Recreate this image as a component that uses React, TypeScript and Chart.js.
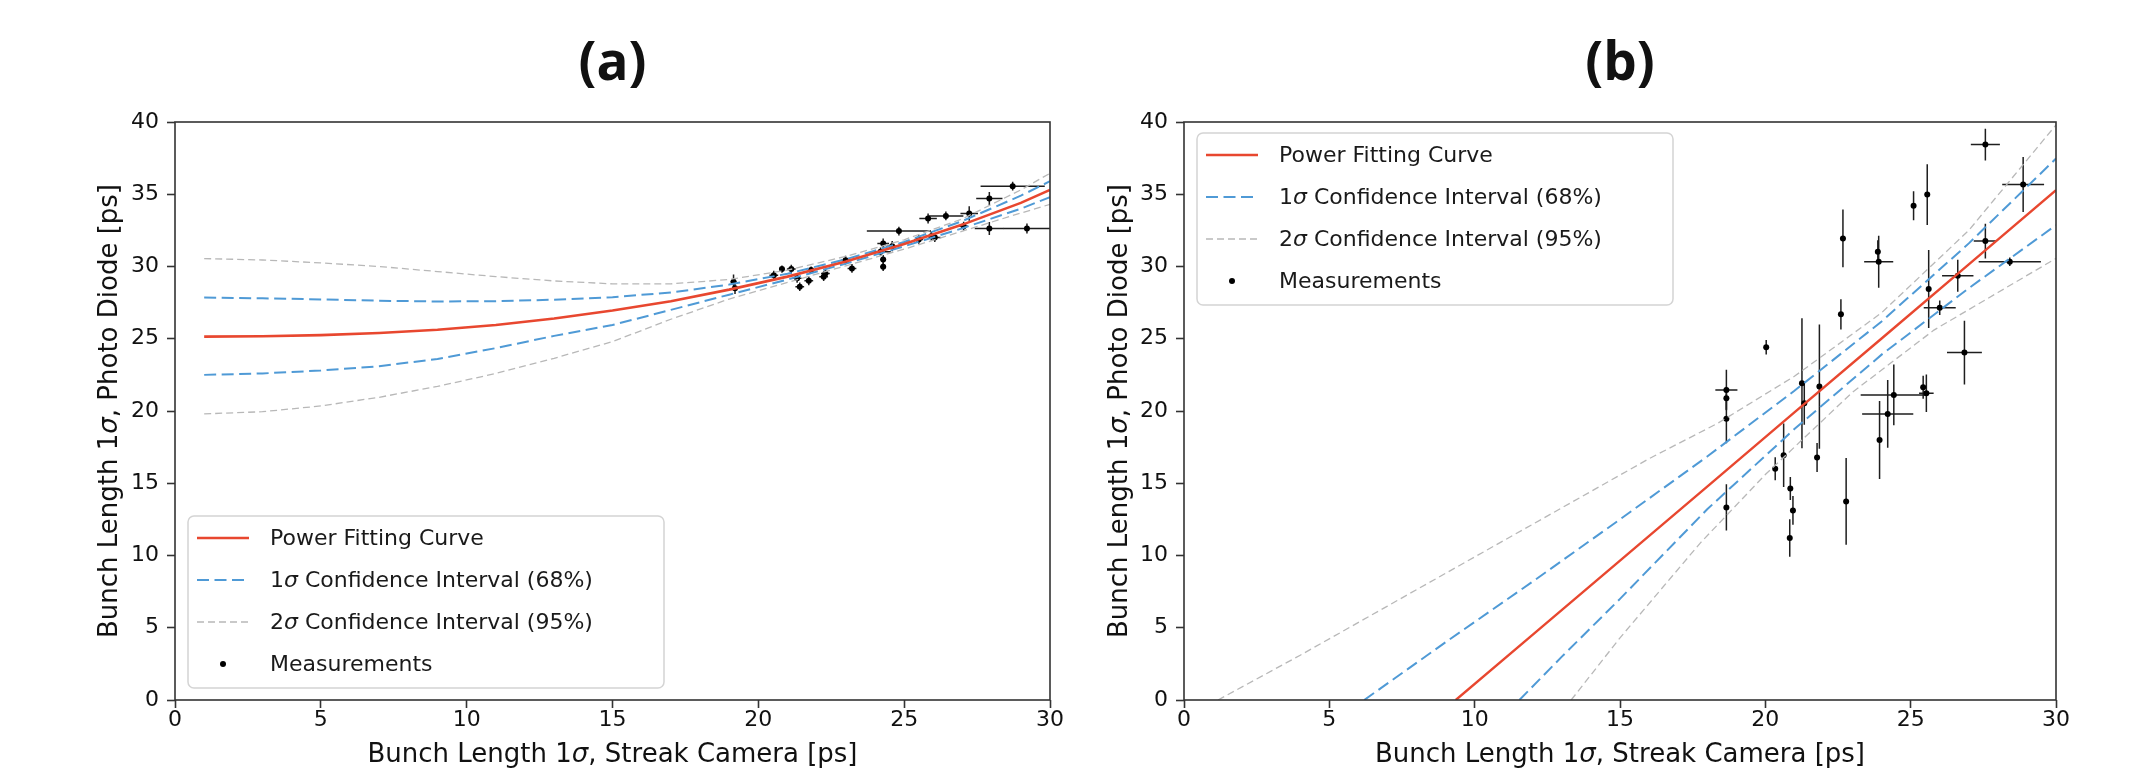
import React, { useEffect, useRef } from 'react';
import { Chart, registerables } from 'chart.js';

Chart.register(...registerables);

// ---------- tick labels ----------
const xTickValues = [0, 5, 10, 15, 20, 25, 30];
const yTickValues = [0, 5, 10, 15, 20, 25, 30, 35, 40];

// ---------- panel (a) curves ----------
const aCurveX = [1, 3, 5, 7, 9, 11, 13, 15, 17, 19, 21, 23, 25, 27, 29, 30];
const aFit = [25.15, 25.17, 25.25, 25.4, 25.62, 25.95, 26.4, 26.95, 27.6, 28.4, 29.3, 30.35, 31.55, 32.9, 34.4, 35.3];
const aUp1 = [27.85, 27.8, 27.72, 27.63, 27.58, 27.6, 27.7, 27.88, 28.2, 28.75, 29.5, 30.5, 31.7, 33.15, 34.9, 35.9];
const aLo1 = [22.5, 22.6, 22.8, 23.1, 23.6, 24.35, 25.2, 25.95, 27.0, 28.05, 29.1, 30.2, 31.4, 32.65, 34.0, 34.8];
const aUp2 = [30.55, 30.45, 30.25, 30.0, 29.65, 29.3, 29.0, 28.8, 28.8, 29.1, 29.75, 30.7, 31.85, 33.3, 35.3, 36.45];
const aLo2 = [19.8, 19.95, 20.35, 20.95, 21.7, 22.6, 23.65, 24.8, 26.35, 27.75, 28.9, 30.05, 31.2, 32.45, 33.7, 34.3];

// ---------- panel (a) measurements ----------
const aMeasX = [19.15, 19.2, 20.53, 20.81, 21.13, 21.33, 21.42, 21.73, 21.81, 22.24, 22.3, 22.99, 23.21, 24.19, 24.28, 24.28, 24.28, 24.59, 24.82, 25.5, 25.93, 26.05, 25.82, 26.43, 27.23, 27.04, 27.92, 28.72, 27.92, 29.21];
const aMeasY = [28.95, 28.5, 29.4, 29.82, 29.82, 29.18, 28.6, 29.01, 29.75, 29.29, 29.52, 30.44, 29.87, 31.02, 31.59, 30.49, 29.98, 31.41, 32.45, 31.87, 32.1, 32.0, 33.32, 33.5, 33.67, 32.79, 34.7, 35.56, 32.63, 32.63];
const aMeasXErr = [0.1, 0.1, 0.15, 0.1, 0.15, 0.15, 0.15, 0.15, 0.1, 0.15, 0.15, 0.15, 0.15, 0.35, 0.2, 0.1, 0.1, 0.2, 1.1, 0.15, 0.2, 0.2, 0.3, 0.6, 0.3, 0.15, 0.45, 1.1, 0.5, 0.8];
const aMeasYErr = [0.5, 0.4, 0.3, 0.25, 0.3, 0.3, 0.3, 0.3, 0.25, 0.3, 0.3, 0.3, 0.3, 0.3, 0.35, 0.3, 0.3, 0.35, 0.3, 0.3, 0.3, 0.3, 0.35, 0.3, 0.5, 0.3, 0.45, 0.3, 0.45, 0.35];

// ---------- panel (b) curves ----------
const bFitX = [9.35, 12, 15, 18, 21, 24, 27, 30];
const bFit = [0, 4.53, 9.65, 14.77, 19.9, 25.02, 30.15, 35.28];
const bUp1X = [6.2, 9, 12, 15, 18, 21, 24, 27, 30];
const bUp1 = [0, 4.0, 8.2, 12.5, 16.85, 21.4, 26.2, 31.6, 37.47];
const bLo1X = [11.54, 13, 15, 18, 21, 24, 27, 30];
const bLo1 = [0, 3.0, 7.0, 13.2, 18.75, 23.9, 28.5, 32.86];
const bUp2X = [1.17, 4, 7, 10, 13, 16, 18.36, 21, 24, 27, 30];
const bUp2 = [0, 3.1, 6.5, 9.9, 13.3, 16.7, 19.15, 22.4, 26.8, 32.5, 39.8];
const bLo2X = [13.32, 15, 17.76, 20, 23, 25.8, 28, 30];
const bLo2 = [0, 4.3, 10.86, 15.6, 21.3, 25.6, 28.2, 30.56];

// ---------- panel (b) measurements ----------
const bMeasX = [27.57, 28.87, 25.57, 25.1, 22.67, 23.87, 23.9, 27.57, 28.41, 26.62, 25.62, 26.0, 22.6, 20.03, 18.66, 18.66, 18.66, 18.66, 21.26, 21.34, 21.86, 20.63, 20.34, 20.86, 20.95, 20.84, 21.78, 22.78, 23.93, 24.21, 24.42, 25.43, 25.54, 26.85];
const bMeasY = [38.44, 35.67, 34.98, 34.2, 31.94, 31.02, 30.33, 31.76, 30.33, 29.36, 28.44, 27.15, 26.69, 24.41, 21.46, 20.88, 19.46, 13.33, 21.92, 20.54, 21.69, 16.94, 16.0, 14.64, 13.12, 11.21, 16.78, 13.74, 18.0, 19.8, 21.11, 21.64, 21.23, 24.04];
const bMeasXErr = [0.5, 0.72, 0.08, 0.08, 0.08, 0.08, 0.5, 0.4, 1.07, 0.54, 0.08, 0.55, 0.08, 0.05, 0.38, 0.05, 0.05, 0.05, 0.05, 0.05, 0.05, 0.05, 0.05, 0.05, 0.05, 0.05, 0.05, 0.05, 0.05, 0.88, 1.14, 0.05, 0.25, 0.6];
const bMeasYErr = [1.1, 1.9, 2.1, 1.0, 2.0, 0.8, 1.8, 1.2, 0.3, 1.1, 2.7, 0.5, 1.05, 0.5, 1.4, 0.8, 1.7, 1.6, 4.5, 1.5, 4.3, 2.2, 0.8, 0.8, 1.0, 1.3, 1.0, 3.0, 2.7, 2.35, 2.1, 0.8, 1.3, 2.2];

// ---------- styling ----------
const FONT = "'DejaVu Sans', sans-serif";
const RED = '#e8472f';
const BLUE = '#4f9ad6';
const GRAY = '#b8b8b8';
const AXIS = '#333333';
const TEXT = '#111111';

type Part = { t: string; it?: boolean };

const xLabelParts: Part[] = [{ t: 'Bunch Length 1' }, { t: 'σ', it: true }, { t: ', Streak Camera [ps]' }];
const yLabelParts: Part[] = [{ t: 'Bunch Length 1' }, { t: 'σ', it: true }, { t: ', Photo Diode [ps]' }];
const legendLabels: Part[][] = [
  [{ t: 'Power Fitting Curve' }],
  [{ t: '1' }, { t: 'σ', it: true }, { t: ' Confidence Interval (68%)' }],
  [{ t: '2' }, { t: 'σ', it: true }, { t: ' Confidence Interval (95%)' }],
  [{ t: 'Measurements' }],
];

function pts(xs: number[], ys: number[]) {
  return xs.map((x, i) => ({ x, y: ys[i] }));
}

function drawRich(ctx: CanvasRenderingContext2D, parts: Part[], x: number, y: number, size: number, align: 'left' | 'center') {
  const widths = parts.map((p) => {
    ctx.font = `${p.it ? 'italic ' : ''}${size}px ${FONT}`;
    return ctx.measureText(p.t).width;
  });
  const total = widths.reduce((a, b) => a + b, 0);
  let cx = align === 'center' ? x - total / 2 : x;
  ctx.textAlign = 'left';
  parts.forEach((p, i) => {
    ctx.font = `${p.it ? 'italic ' : ''}${size}px ${FONT}`;
    ctx.fillText(p.t, cx, y);
    cx += widths[i];
  });
}

interface Panel {
  title: string;
  yAxisWidth: number;
  padRight: number;
  yLabelX: number;
  legendPos: 'lowerleft' | 'upperleft';
  fitWidth: number;
  lines: { xs: number[]; ys: number[]; kind: 'fit' | 'sig1' | 'sig2' }[];
  mx: number[];
  my: number[];
  mxe: number[];
  mye: number[];
}

const panelA: Panel = {
  title: '(a)',
  yAxisWidth: 175,
  padRight: 24,
  yLabelX: 117,
  legendPos: 'lowerleft',
  fitWidth: 2.6,
  lines: [
    { xs: aCurveX, ys: aFit, kind: 'fit' },
    { xs: aCurveX, ys: aUp1, kind: 'sig1' },
    { xs: aCurveX, ys: aLo1, kind: 'sig1' },
    { xs: aCurveX, ys: aUp2, kind: 'sig2' },
    { xs: aCurveX, ys: aLo2, kind: 'sig2' },
  ],
  mx: aMeasX,
  my: aMeasY,
  mxe: aMeasXErr,
  mye: aMeasYErr,
};

const panelB: Panel = {
  title: '(b)',
  yAxisWidth: 110,
  padRight: 92,
  yLabelX: 53,
  legendPos: 'upperleft',
  fitWidth: 2.4,
  lines: [
    { xs: bFitX, ys: bFit, kind: 'fit' },
    { xs: bUp1X, ys: bUp1, kind: 'sig1' },
    { xs: bLo1X, ys: bLo1, kind: 'sig1' },
    { xs: bUp2X, ys: bUp2, kind: 'sig2' },
    { xs: bLo2X, ys: bLo2, kind: 'sig2' },
  ],
  mx: bMeasX,
  my: bMeasY,
  mxe: bMeasXErr,
  mye: bMeasYErr,
};

function makeConfig(p: Panel): any {
  const datasets: any[] = p.lines.map((l) => {
    const base: any = {
      data: pts(l.xs, l.ys),
      showLine: true,
      pointRadius: 0,
      tension: 0,
      fill: false,
    };
    if (l.kind === 'fit') return { ...base, borderColor: RED, borderWidth: p.fitWidth, order: 0 };
    if (l.kind === 'sig1') return { ...base, borderColor: BLUE, borderWidth: 2, borderDash: [12, 5.5], order: 1 };
    return { ...base, borderColor: GRAY, borderWidth: 1.3, borderDash: [7, 4], order: 2 };
  });
  datasets.push({
    data: pts(p.mx, p.my),
    showLine: false,
    pointRadius: 3,
    pointBackgroundColor: '#000',
    pointBorderWidth: 0,
    order: 5,
  });

  const decor = {
    id: 'decor' + p.title,
    beforeDatasetsDraw(chart: any) {
      const { ctx, chartArea: ca, scales } = chart;
      const sx = scales.x;
      const sy = scales.y;
      ctx.save();
      ctx.beginPath();
      ctx.rect(ca.left, ca.top, ca.right - ca.left, ca.bottom - ca.top);
      ctx.clip();
      ctx.strokeStyle = '#1e1e1e';
      ctx.lineWidth = 1.5;
      p.mx.forEach((x, i) => {
        const y = p.my[i];
        ctx.beginPath();
        ctx.moveTo(sx.getPixelForValue(x), sy.getPixelForValue(y - p.mye[i]));
        ctx.lineTo(sx.getPixelForValue(x), sy.getPixelForValue(y + p.mye[i]));
        ctx.moveTo(sx.getPixelForValue(x - p.mxe[i]), sy.getPixelForValue(y));
        ctx.lineTo(sx.getPixelForValue(x + p.mxe[i]), sy.getPixelForValue(y));
        ctx.stroke();
      });
      ctx.restore();
    },
    afterDraw(chart: any) {
      const { ctx, chartArea: ca } = chart;
      ctx.save();
      // frame
      ctx.strokeStyle = AXIS;
      ctx.lineWidth = 1.6;
      ctx.strokeRect(ca.left, ca.top, ca.right - ca.left, ca.bottom - ca.top);

      const cxm = (ca.left + ca.right) / 2;
      const cym = (ca.top + ca.bottom) / 2;
      ctx.fillStyle = TEXT;
      ctx.textBaseline = 'alphabetic';
      // title
      ctx.font = `bold 53px 'Open Sans', ${FONT}`;
      ctx.textAlign = 'center';
      ctx.fillText(p.title, cxm, 80);
      // x label
      drawRich(ctx, xLabelParts, cxm, 762, 26, 'center');
      // y label
      ctx.save();
      ctx.translate(p.yLabelX, cym);
      ctx.rotate(-Math.PI / 2);
      drawRich(ctx, yLabelParts, 0, 0, 26, 'center');
      ctx.restore();

      // legend
      const bw = 476;
      const bh = 172;
      const bx = ca.left + 13;
      const by = p.legendPos === 'upperleft' ? ca.top + 11 : ca.bottom - 12 - bh;
      ctx.beginPath();
      (ctx as any).roundRect(bx, by, bw, bh, 6);
      ctx.fillStyle = 'rgba(255,255,255,0.85)';
      ctx.fill();
      ctx.strokeStyle = '#d4d4d4';
      ctx.lineWidth = 1.5;
      ctx.stroke();

      const rows = [by + 22, by + 64, by + 106, by + 148];
      const hx0 = bx + 9;
      const hx1 = bx + 61;
      // handles
      ctx.lineWidth = p.fitWidth;
      ctx.strokeStyle = RED;
      ctx.setLineDash([]);
      ctx.beginPath();
      ctx.moveTo(hx0, rows[0]);
      ctx.lineTo(hx1, rows[0]);
      ctx.stroke();
      ctx.lineWidth = 2;
      ctx.strokeStyle = BLUE;
      ctx.setLineDash([12, 5.5]);
      ctx.beginPath();
      ctx.moveTo(hx0, rows[1]);
      ctx.lineTo(hx1, rows[1]);
      ctx.stroke();
      ctx.lineWidth = 1.3;
      ctx.strokeStyle = GRAY;
      ctx.setLineDash([7, 4]);
      ctx.beginPath();
      ctx.moveTo(hx0, rows[2]);
      ctx.lineTo(hx1, rows[2]);
      ctx.stroke();
      ctx.setLineDash([]);
      ctx.fillStyle = '#000';
      ctx.beginPath();
      ctx.arc((hx0 + hx1) / 2, rows[3], 3, 0, Math.PI * 2);
      ctx.fill();

      ctx.fillStyle = '#1a1a1a';
      ctx.textBaseline = 'middle';
      legendLabels.forEach((parts, i) => drawRich(ctx, parts, bx + 82, rows[i] + 1, 22, 'left'));
      ctx.restore();
    },
  };

  return {
    type: 'scatter',
    data: { datasets },
    options: {
      animation: false,
      responsive: false,
      devicePixelRatio: 1,
      events: [],
      layout: { padding: { top: 122, left: 0, right: p.padRight, bottom: 0 } },
      plugins: { legend: { display: false }, title: { display: false }, tooltip: { enabled: false } },
      scales: {
        x: {
          type: 'linear',
          min: 0,
          max: 30,
          afterBuildTicks: (s: any) => {
            s.ticks = xTickValues.map((v) => ({ value: v }));
          },
          afterFit: (s: any) => {
            s.height = 77;
          },
          grid: { display: true, drawOnChartArea: false, drawTicks: true, tickLength: 8, tickWidth: 1.6, tickColor: AXIS, color: AXIS },
          border: { display: false },
          ticks: { font: { family: FONT, size: 22, lineHeight: 1 }, color: TEXT, padding: 1, maxRotation: 0, autoSkip: false },
        },
        y: {
          type: 'linear',
          min: 0,
          max: 40,
          afterBuildTicks: (s: any) => {
            s.ticks = yTickValues.map((v) => ({ value: v }));
          },
          afterFit: (s: any) => {
            s.width = p.yAxisWidth;
          },
          grid: { display: true, drawOnChartArea: false, drawTicks: true, tickLength: 8, tickWidth: 1.6, tickColor: AXIS, color: AXIS },
          border: { display: false },
          ticks: { font: { family: FONT, size: 22, lineHeight: 1 }, color: TEXT, padding: 8, autoSkip: false },
        },
      },
    },
    plugins: [decor],
  };
}

function PanelChart({ panel, left }: { panel: Panel; left: number }) {
  const ref = useRef<HTMLCanvasElement | null>(null);
  useEffect(() => {
    if (!ref.current) return;
    const chart = new Chart(ref.current, makeConfig(panel));
    return () => chart.destroy();
  }, [panel]);
  return (
    <canvas
      ref={ref}
      width={1074}
      height={777}
      style={{ position: 'absolute', left, top: 0, width: 1074, height: 777 }}
    />
  );
}

export default function App() {
  return (
    <div style={{ position: 'absolute', left: 0, top: 0, width: 2148, height: 777, background: '#ffffff', overflow: 'hidden' }}>
      <PanelChart panel={panelA} left={0} />
      <PanelChart panel={panelB} left={1074} />
    </div>
  );
}
